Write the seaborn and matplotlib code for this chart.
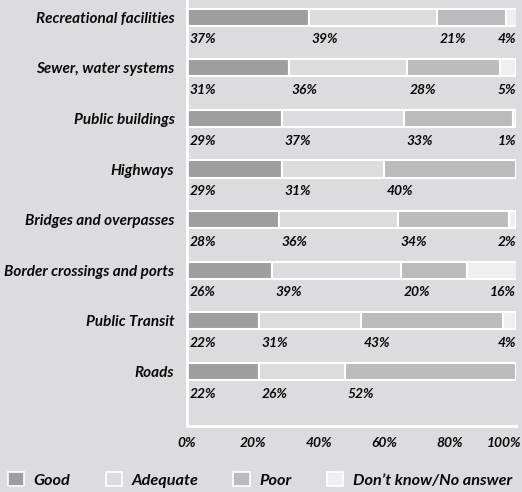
import pandas as pd
import seaborn as sns
import matplotlib.pyplot as plt
import matplotlib.transforms as mtransforms
from matplotlib.patches import Patch

categories = ["Recreational facilities", "Sewer, water systems", "Public buildings",
              "Highways", "Bridges and overpasses", "Border crossings and ports",
              "Public Transit", "Roads"]
good = [37, 31, 29, 29, 28, 26, 22, 22]
adequate = [39, 36, 37, 31, 36, 39, 31, 26]
poor = [21, 28, 33, 40, 34, 20, 43, 52]
dont_know = [4, 5, 1, 0, 2, 16, 4, 0]

series = ["Good", "Adequate", "Poor", "Don\u2019t know/No answer"]
colors = ["#9d9da1", "#dcdcde", "#bbbbbe", "#efefef"]
bg = "#dcdcde"
ink = "#0a0a0a"

sns.set_style("white")
plt.rcParams["font.family"] = ["Lato", "DejaVu Sans"]

df = pd.DataFrame({"category": categories, "Good": good, "Adequate": adequate,
                   "Poor": poor, series[3]: dont_know})

fig = plt.figure(figsize=(5.22, 4.92), dpi=100, facecolor=bg)
ax = fig.add_axes([0.358, 0.134, 0.6305, 0.866])
ax.set_facecolor(bg)

left = [0] * len(categories)
for name, col in zip(series, colors):
    sns.barplot(data=df, x=name, y="category", orient="h", left=left, color=col,
                width=0.34, edgecolor="white", linewidth=1.5, ax=ax)
    # percentage labels under each segment
    for i, v in enumerate(df[name]):
        if v == 0:
            continue
        if name == series[3]:
            ax.text(100, i + 0.44, f"{v}%", ha="right", va="center", fontsize=10,
                    fontweight="bold", fontstyle="italic", color=ink)
        else:
            ax.text(left[i] + 0.8, i + 0.44, f"{v}%", ha="left", va="center", fontsize=10,
                    fontweight="bold", fontstyle="italic", color=ink)
    left = [a + b for a, b in zip(left, df[name])]

ax.set_xlim(0, 100)
ax.set_ylim(8.08, -0.34)
ax.set_xlabel("")
ax.set_ylabel("")
ax.set_xticks([0, 20, 40, 60, 80, 100])
ax.set_xticklabels(["0%", "20%", "40%", "60%", "80%", "100%"])
ax.tick_params(axis="x", direction="in", length=6, width=1.5, color="white", pad=8,
               labelsize=10, labelcolor=ink)
ax.tick_params(axis="y", length=0, pad=9, labelsize=11, labelcolor=ink)
for lab in ax.get_xticklabels() + ax.get_yticklabels():
    lab.set_fontweight("bold")
    lab.set_fontstyle("italic")
# keep the 100% label inside the figure
last = ax.get_xticklabels()[-1]
last.set_horizontalalignment("right")
last.set_transform(last.get_transform() + mtransforms.ScaledTranslation(5 / 100, 0, fig.dpi_scale_trans))

for s in ["top", "right"]:
    ax.spines[s].set_visible(False)
for s in ["left", "bottom"]:
    ax.spines[s].set_color("white")
    ax.spines[s].set_linewidth(2)

handles = [Patch(facecolor=c, edgecolor="white", linewidth=1.2) for c in colors]
leg = fig.legend(handles, series, loc="lower left", bbox_to_anchor=(-0.013, -0.021), ncol=4,
                 frameon=False, handlelength=1.0, handleheight=1.0, handletextpad=0.6,
                 columnspacing=2.15, prop={"size": 11.7, "weight": "bold", "style": "italic"})
for t in leg.get_texts():
    t.set_color(ink)

fig.savefig("out.png", dpi=100, facecolor=bg)
